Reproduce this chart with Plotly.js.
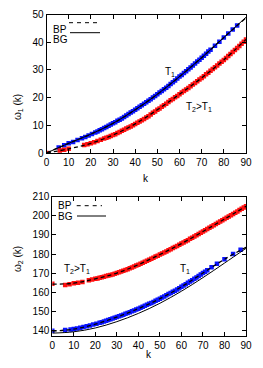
<!DOCTYPE html>
<html>
<head>
<meta charset="utf-8">
<script src="https://cdn.plot.ly/plotly-3.0.1.min.js"></script>
<style>html,body{margin:0;padding:0;background:#fff;}#chart{width:263px;height:368px;}</style>
</head>
<body>
<div id="chart"></div>
<script>
// ---- top panel (omega_1) ----
var top_blue_k = [5.5,8,10,12,14,16,17.5,19,20.5,22,23,24,25,26,27,28,29,30,31,32,33,34,35,36,37,38,39,40,41,42,43,44,45,46,47,48,49,50,51,52,53,54,55,56,57,58,59,60,61,62,63,64,65,66,67,68,69,70,71,72,73,74,76,78,80,82,84,86];
var top_blue_w = [2.0,2.8,3.5,4.0,4.7,5.3,5.8,6.3,6.9,7.4,7.8,8.2,8.6,9.0,9.4,9.8,10.3,10.7,11.1,11.6,12.0,12.5,13.0,13.5,14.1,14.6,15.1,15.6,16.2,16.7,17.2,17.8,18.3,18.9,19.4,20.0,20.6,21.2,21.8,22.4,23.0,23.6,24.2,24.9,25.5,26.2,26.9,27.6,28.2,28.9,29.5,30.2,30.9,31.6,32.3,33.0,33.7,34.4,35.1,35.8,36.6,37.3,38.7,40.2,41.7,43.1,44.6,46.0];
var top_red_k = [0,6,8,10,17,18.5,20,21.5,23,24.5,26,27,28,29,30,31,32,33,34,35,36,37,38,39,40,41,42,43,44,45,46,47,48,49,50,51,52,53,54,55,56,57,58,59,60,61,62,63,64,65,66,67,68,69,70,71,72,73,74,75,76,77,78,79,80,81,82,83,84,85,86,87,88,89,90];
var top_red_w = [0,0.9,1.2,1.5,2.9,3.2,3.5,3.9,4.3,4.8,5.2,5.5,5.8,6.1,6.5,6.8,7.2,7.6,8.0,8.4,8.8,9.2,9.6,10.0,10.5,10.9,11.4,11.8,12.3,12.8,13.3,13.9,14.5,15.0,15.6,16.1,16.7,17.2,17.8,18.4,19.0,19.5,20.1,20.6,21.2,21.8,22.4,22.9,23.5,24.1,24.7,25.3,25.9,26.5,27.1,27.7,28.4,29.0,29.7,30.3,31.0,31.6,32.3,32.9,33.6,34.3,35.0,35.7,36.5,37.2,37.9,38.6,39.4,40.2,41.0];
var top_bg_k = [0,10,20,30,40,50,60,70,80,90];
var top_bg_w = [0,3.5,6.8,10.7,15.6,21.2,27.6,34.4,41.7,49.0];
var top_bp1_k = [0,10,20,30,40,50,60,70,80,90];
var top_bp1_w = [0,3.5,6.8,10.7,15.6,21.2,27.6,34.4,41.7,48.8];
var top_bp2_k = [0,10,20,30,40,50,60,70,80,90];
var top_bp2_w = [0,1.5,3.5,6.5,10.5,15.6,21.2,27.1,33.6,41.0];

// ---- bottom panel (omega_2) ----
var bot_blue_k = [0,6,8.5,10,11.5,13,14.5,16,17.5,19,20.5,22,23,24,25,26,27,28,29,30,31,32,33,34,35,36,37,38,39,40,41,42,43,44,45,46,47,48,49,50,51,52,53,54,55,56,57,58,59,60,61,62,63,64,65,66,67,68,69,70,71,72,74,76.5,80,84,87.5];
var bot_blue_w = [140.0,140.3,140.6,140.8,141.1,141.5,141.9,142.3,142.7,143.2,143.6,144.1,144.4,144.8,145.2,145.6,145.9,146.3,146.7,147.1,147.5,147.9,148.3,148.8,149.2,149.6,150.1,150.5,151.0,151.5,152.0,152.5,153.0,153.5,154.0,154.5,155.0,155.6,156.1,156.7,157.3,157.9,158.5,159.1,159.7,160.3,160.9,161.5,162.2,162.9,163.6,164.3,165.0,165.7,166.4,167.1,167.8,168.6,169.3,170.1,170.8,171.6,173.1,175.0,177.3,180.0,182.3];
var bot_red_k = [0,6,8,10,12,14,17,18.5,20,21,22,23,24,25,26,27,28,29,30,31,32,33,34,35,36,37,38,39,40,41,42,43,44,45,46,47,48,49,50,51,52,53,54,55,56,57,58,59,60,61,62,63,64,65,66,67,68,69,70,71,72,73,74,75,76,77,78,79,80,81,82,83,84,85,86,87,88,89,90];
var bot_red_w = [164.5,163.8,164.3,164.8,165.0,165.4,166.3,166.7,167.1,167.3,167.6,167.9,168.2,168.5,168.8,169.1,169.4,169.7,170.1,170.5,170.9,171.3,171.7,172.1,172.6,173.0,173.5,174.0,174.5,175.0,175.5,176.0,176.5,177.0,177.6,178.1,178.7,179.2,179.8,180.3,180.9,181.4,182.0,182.6,183.2,183.7,184.3,184.9,185.5,186.1,186.7,187.3,188.0,188.6,189.2,189.9,190.5,191.2,191.8,192.5,193.1,193.8,194.4,195.1,195.7,196.4,197.0,197.7,198.3,199.0,199.6,200.3,201.0,201.6,202.3,203.0,203.7,204.3,205.0];
var bot_bg_k = [0,10,20,30,40,50,60,70,80,90];
var bot_bg_w = [138.7,139.4,141.4,144.7,149.0,154.3,160.6,167.7,175.3,183.0];
var bot_bp1_k = [0,10,20,30,40,50,60,70,80,90];
var bot_bp1_w = [139.8,140.8,143.4,147.1,151.5,156.7,162.9,170.1,177.3,183.6];
var bot_bp2_k = [0,10,20,30,40,50,60,70,80,90];
var bot_bp2_w = [164.3,164.8,167.1,170.1,174.5,179.8,185.5,191.8,198.3,205.0];

var xTicks = [0,10,20,30,40,50,60,70,80,90];
var topYTicks = [0,10,20,30,40,50];
var botYTicks = [140,150,160,170,180,190,200,210];

var W = 263, H = 368;
function px(x){return x/W;}
function py(y){return 1-y/H;}

var blue = '#0a14ff', red = '#ff1010';
var mk = function(c){return {color:c, size:4.5, symbol:'square'};};
var dashLine = {color:'#000', width:1.3, dash:'4px,3px', shape:'spline'};
var solidLine = {color:'#000', width:1, shape:'spline'};

var traces = [
  {x:top_blue_k, y:top_blue_w, mode:'markers', marker:mk(blue), xaxis:'x', yaxis:'y'},
  {x:top_red_k, y:top_red_w, mode:'markers', marker:mk(red), xaxis:'x', yaxis:'y'},
  {x:top_bg_k, y:top_bg_w, mode:'lines', line:solidLine, xaxis:'x', yaxis:'y'},
  {x:top_bp1_k, y:top_bp1_w, mode:'lines', line:dashLine, xaxis:'x', yaxis:'y'},
  {x:top_bp2_k, y:top_bp2_w, mode:'lines', line:dashLine, xaxis:'x', yaxis:'y'},
  {x:bot_blue_k, y:bot_blue_w, mode:'markers', marker:mk(blue), xaxis:'x2', yaxis:'y2'},
  {x:bot_red_k, y:bot_red_w, mode:'markers', marker:mk(red), xaxis:'x2', yaxis:'y2'},
  {x:bot_bg_k, y:bot_bg_w, mode:'lines', line:solidLine, xaxis:'x2', yaxis:'y2'},
  {x:bot_bp1_k, y:bot_bp1_w, mode:'lines', line:dashLine, xaxis:'x2', yaxis:'y2'},
  {x:bot_bp2_k, y:bot_bp2_w, mode:'lines', line:dashLine, xaxis:'x2', yaxis:'y2'}
];

var font = {family:'Liberation Sans, Arial, sans-serif', size:10, color:'#000'};
function ax(extra){
  var a = {showline:true, mirror:'ticks', linecolor:'#000', linewidth:1, ticks:'inside', ticklen:4, tickcolor:'#000', tickwidth:1,
    showgrid:false, zeroline:false, tickfont:font, fixedrange:true};
  for (var k in extra) a[k]=extra[k];
  return a;
}

var layout = {
  width:W, height:H, margin:{l:0,r:0,t:0,b:0}, showlegend:false,
  paper_bgcolor:'#fff', plot_bgcolor:'#fff', font:font,
  xaxis: ax({domain:[px(46.5),px(246)], range:[0,90], tickvals:xTicks, anchor:'y'}),
  yaxis: ax({domain:[py(153),py(14.5)], range:[0,50], tickvals:topYTicks, anchor:'x'}),
  xaxis2: ax({domain:[px(52.3),px(246)], range:[0,90], tickvals:xTicks, anchor:'y2'}),
  yaxis2: ax({domain:[py(336),py(196.7)], range:[137.2,210], tickvals:botYTicks, anchor:'x2'}),
  annotations:[
    {xref:'paper', yref:'paper', x:px(10), y:py(92), text:'ω<sub>1</sub> (k)', textangle:-90, showarrow:false, font:font},
    {xref:'paper', yref:'paper', x:px(146), y:py(178), text:'k', showarrow:false, font:font},
    {xref:'paper', yref:'paper', x:px(10), y:py(274), text:'ω<sub>2</sub> (k)', textangle:-90, showarrow:false, font:font},
    {xref:'paper', yref:'paper', x:px(149), y:py(362), text:'k', showarrow:false, font:font},
    {xref:'x', yref:'y', x:55.7, y:29.4, text:'T<sub>1</sub>', showarrow:false, font:font},
    {xref:'x', yref:'y', x:69, y:16.6, text:'T<sub>2</sub>>T<sub>1</sub>', showarrow:false, font:font},
    {xref:'x2', yref:'y2', x:61.6, y:172.4, text:'T<sub>1</sub>', showarrow:false, font:font},
    {xref:'x2', yref:'y2', x:11.5, y:172.4, text:'T<sub>2</sub>>T<sub>1</sub>', showarrow:false, font:font},
    {xref:'paper', yref:'paper', x:px(51), y:py(22), xanchor:'left', text:'BP', showarrow:false, font:font},
    {xref:'paper', yref:'paper', x:px(51), y:py(32.5), xanchor:'left', text:'BG', showarrow:false, font:font},
    {xref:'paper', yref:'paper', x:px(56), y:py(205.5), xanchor:'left', text:'BP', showarrow:false, font:font},
    {xref:'paper', yref:'paper', x:px(56), y:py(216), xanchor:'left', text:'BG', showarrow:false, font:font}
  ],
  shapes:[
    {type:'line', xref:'paper', yref:'paper', x0:px(69), x1:px(97), y0:py(22.7), y1:py(22.7), line:{color:'#000', width:1, dash:'4px,4px'}},
    {type:'line', xref:'paper', yref:'paper', x0:px(70), x1:px(100), y0:py(32.7), y1:py(32.7), line:{color:'#000', width:1}},
    {type:'line', xref:'paper', yref:'paper', x0:px(76.7), x1:px(102), y0:py(205.7), y1:py(205.7), line:{color:'#000', width:1, dash:'4px,4px'}},
    {type:'line', xref:'paper', yref:'paper', x0:px(77), x1:px(106), y0:py(216), y1:py(216), line:{color:'#000', width:1}}
  ]
};

Plotly.newPlot('chart', traces, layout, {displayModeBar:false, staticPlot:true});
</script>
</body>
</html>
